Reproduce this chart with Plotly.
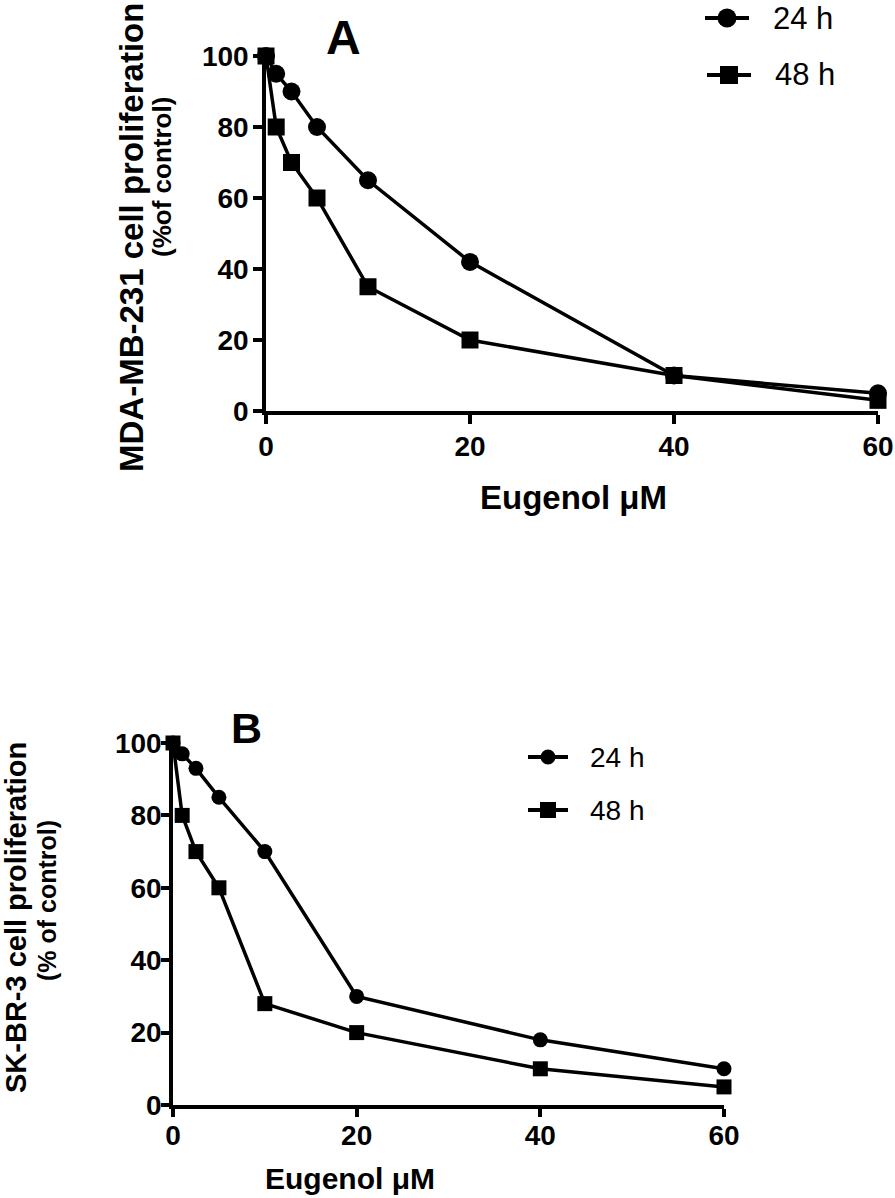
import plotly.graph_objects as go

# ---- data ----
eugenol_um = [0, 1, 2.5, 5, 10, 20, 40, 60]
mda_24h = [100, 95, 90, 80, 65, 42, 10, 5]
mda_48h = [100, 80, 70, 60, 35, 20, 10, 3]
skbr_24h = [100, 97, 93, 85, 70, 30, 18, 10]
skbr_48h = [100, 80, 70, 60, 28, 20, 10, 5]
x_ticks = [0, 20, 40, 60]
y_ticks = [0, 20, 40, 60, 80, 100]
series_names = ["24 h", "48 h"]

W, H = 895, 1198
SANS = "Liberation Sans, Arial, Helvetica"

def px(x):
    return x / W

def py(y):
    return 1 - y / H

fig = go.Figure()

# Panel A
fig.add_trace(go.Scatter(x=eugenol_um, y=mda_24h, name=series_names[0], mode="lines+markers",
                         line=dict(color="black", width=3.5), marker=dict(symbol="circle", size=18, color="black"),
                         xaxis="x", yaxis="y", cliponaxis=False, showlegend=False))
fig.add_trace(go.Scatter(x=eugenol_um, y=mda_48h, name=series_names[1], mode="lines+markers",
                         line=dict(color="black", width=3.5), marker=dict(symbol="square", size=17, color="black"),
                         xaxis="x", yaxis="y", cliponaxis=False, showlegend=False))
# Panel B
fig.add_trace(go.Scatter(x=eugenol_um, y=skbr_24h, name=series_names[0], mode="lines+markers",
                         line=dict(color="black", width=3.5), marker=dict(symbol="circle", size=15, color="black"),
                         xaxis="x2", yaxis="y2", cliponaxis=False, showlegend=False))
fig.add_trace(go.Scatter(x=eugenol_um, y=skbr_48h, name=series_names[1], mode="lines+markers",
                         line=dict(color="black", width=3.5), marker=dict(symbol="square", size=15, color="black"),
                         xaxis="x2", yaxis="y2", cliponaxis=False, showlegend=False))

def axis_style(standoff, ticklen=9):
    return dict(showgrid=False, zeroline=False, showline=True, linecolor="black", linewidth=3.5,
                ticks="outside", ticklen=ticklen, tickwidth=3.5, tickcolor="black", automargin=False,
                ticklabelstandoff=standoff,
                tickfont=dict(family=SANS, size=28, color="black", weight="bold"))

fig.update_layout(
    width=W, height=H,
    margin=dict(l=0, r=0, t=0, b=0, pad=0, autoexpand=False),
    paper_bgcolor="white", plot_bgcolor="white",
    xaxis=dict(domain=[px(266), px(878)], range=[0, 60], tickvals=x_ticks, anchor="y", **axis_style(-1)),
    yaxis=dict(domain=[py(411), py(56)], range=[0, 100], tickvals=y_ticks, anchor="x", **axis_style(-1)),
    xaxis2=dict(domain=[px(173), px(724)], range=[0, 60], tickvals=x_ticks, anchor="y2", **axis_style(-5, 8)),
    yaxis2=dict(domain=[py(1105), py(743)], range=[0, 100], tickvals=y_ticks, anchor="x2", **axis_style(-6, 8)),
    showlegend=False,
)

# ---- hand-drawn legends (line + marker glyph + label) ----
shapes = []
annotations = []

def legend_entry(x0, x1, y, marker, msize, label_x, label, fsize):
    shapes.append(dict(type="line", xref="paper", yref="paper", x0=px(x0), x1=px(x1), y0=py(y), y1=py(y),
                       line=dict(color="black", width=4)))
    cx = (x0 + x1) / 2
    r = msize / 2
    shapes.append(dict(type="circle" if marker == "circle" else "rect", xref="paper", yref="paper",
                       x0=px(cx - r), x1=px(cx + r), y0=py(y + r), y1=py(y - r),
                       fillcolor="black", line=dict(color="black", width=0)))
    annotations.append(dict(text=label, x=px(label_x), y=py(y), xanchor="left", yanchor="middle",
                            font=dict(family=SANS, size=fsize, color="black")))

legend_entry(705, 749, 18, "circle", 19, 771, series_names[0], 31)
legend_entry(707, 751, 75, "square", 18, 773, series_names[1], 31)
legend_entry(528, 568, 757, "circle", 15, 588, series_names[0], 28)
legend_entry(528, 568, 810, "square", 16, 588, series_names[1], 28)

texts = [
    dict(text="<b>A</b>", x=px(343), y=py(38), font=dict(family=SANS, size=48, color="black")),
    dict(text="<b>B</b>", x=px(246), y=py(728), font=dict(family=SANS, size=43, color="black")),
    dict(text="<b>MDA-MB-231 cell proliferation</b>", x=px(132), y=py(238), textangle=-90,
         font=dict(family=SANS, size=33, color="black")),
    dict(text="<b>(%of control)</b>", x=px(162), y=py(177), textangle=-90,
         font=dict(family=SANS, size=26, color="black")),
    dict(text="<b>SK-BR-3 cell proliferation</b>", x=px(16), y=py(918), textangle=-90,
         font=dict(family=SANS, size=29, color="black")),
    dict(text="<b>(% of control)</b>", x=px(47), y=py(901), textangle=-90,
         font=dict(family=SANS, size=25, color="black")),
    dict(text="<b>Eugenol μM</b>", x=px(573), y=py(497), font=dict(family=SANS, size=33, color="black")),
    dict(text="<b>Eugenol μM</b>", x=px(350), y=py(1178), font=dict(family=SANS, size=30, color="black")),
]
for a in texts:
    a.update(xanchor="center", yanchor="middle")
    annotations.append(a)
for a in annotations:
    a.update(xref="paper", yref="paper", showarrow=False)

fig.update_layout(shapes=shapes, annotations=annotations)

fig.write_html("out.html", config={"displayModeBar": False},
               post_script="document.body.style.margin='0';document.body.style.overflow='hidden';")
